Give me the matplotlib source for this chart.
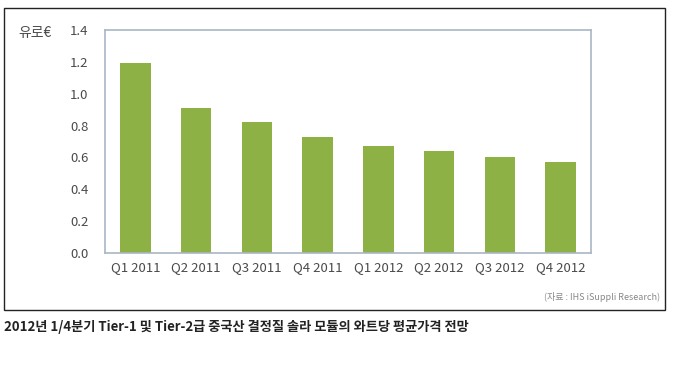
import matplotlib
matplotlib.use("Agg")
import matplotlib.pyplot as plt
from matplotlib.patches import Rectangle

plt.rcParams['font.family'] = ['Noto Sans CJK KR', 'DejaVu Sans']

quarters = ['Q1 2011', 'Q2 2011', 'Q3 2011', 'Q4 2011',
            'Q1 2012', 'Q2 2012', 'Q3 2012', 'Q4 2012']
prices = [1.19, 0.91, 0.82, 0.73, 0.67, 0.64, 0.60, 0.57]
yticks = [0.0, 0.2, 0.4, 0.6, 0.8, 1.0, 1.2, 1.4]

W, H = 685, 368
fig = plt.figure(figsize=(W / 100, H / 100), dpi=100)

# outer frame
fig.patches.append(Rectangle((4 / W, 1 - 310 / H), (665 - 4) / W, (310 - 8) / H,
                             transform=fig.transFigure, fill=False,
                             edgecolor='#222222', linewidth=1.0))

ax = fig.add_axes([105 / W, 1 - 253 / H, (591 - 105) / W, (253 - 30) / H])
x = range(len(quarters))
ax.bar(x, prices, width=0.5, color='#8db145')
ax.set_xlim(-0.5, len(quarters) - 0.5)
ax.set_ylim(0, 1.4)
ax.set_yticks(yticks)
ax.set_yticklabels([f'{v:.1f}' for v in yticks])
ax.set_xticks(list(x))
ax.set_xticklabels(quarters)
ax.tick_params(length=0, labelsize=9.5, colors='#4a4a4a', pad=6)
ax.tick_params(axis='y', pad=12)
for s in ax.spines.values():
    s.set_color('#a9b6c6')
    s.set_linewidth(1.2)

fig.text(18 / W, 1 - 33 / H, '유로€', fontsize=10, color='#4a4a4a', va='center')
fig.text(660 / W, 1 - 297 / H, '(자료 : IHS iSuppli Research)', fontsize=6.5,
         color='#888888', ha='right', va='center')
fig.text(4 / W, 1 - 327 / H,
         '2012년 1/4분기 Tier-1 및 Tier-2급 중국산 결정질 솔라 모듈의 와트당 평균가격 전망',
         fontsize=9.5, fontweight='bold', color='#222222', va='center')

fig.savefig('out.png', dpi=100)
